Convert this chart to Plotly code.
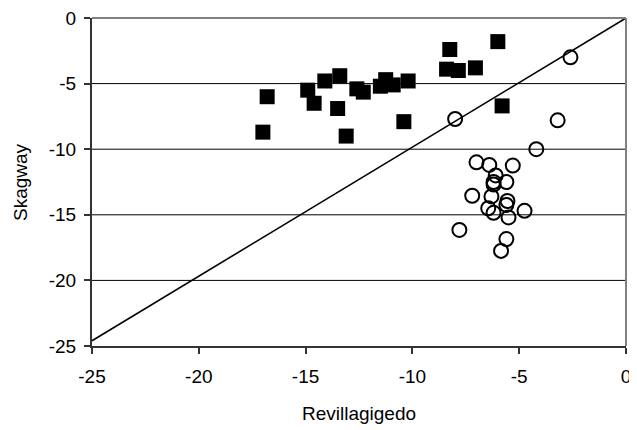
import plotly.graph_objects as go

# Skagway vs Revillagigedo
sq_x = [-17.0, -16.8, -14.9, -14.6, -14.1, -13.4, -13.5, -13.1, -12.6, -12.3,
        -11.5, -11.25, -10.9, -10.2, -10.4, -8.25, -8.4, -7.85, -7.05, -6.0, -5.8]
sq_y = [-8.7, -6.0, -5.5, -6.5, -4.8, -4.4, -6.9, -9.0, -5.4, -5.65,
        -5.2, -4.7, -5.1, -4.8, -7.9, -2.4, -3.9, -4.0, -3.8, -1.8, -6.7]

ci_x = [-2.6, -8.0, -3.2, -4.2, -7.0, -6.4, -5.3, -6.1, -6.2, -6.2, -5.6,
        -7.2, -6.3, -5.55, -5.6, -6.45, -6.2, -5.5, -4.75, -7.8, -5.6, -5.85]
ci_y = [-3.0, -7.7, -7.8, -10.0, -11.0, -11.2, -11.25, -12.0, -12.5, -12.7, -12.5,
        -13.55, -13.6, -13.95, -14.25, -14.5, -14.85, -15.2, -14.7, -16.15, -16.85, -17.75]

line_x = [-25, 0]
line_y = [-24.6, 0]

x_ticks = [-25, -20, -15, -10, -5, 0]
x_labels = ["-25", "-20", "-15", "-10", "-5", "0"]
y_ticks = [-25, -20, -15, -10, -5, 0]
y_labels = ["-25", "-20", "-15", "-10", "-5", "0"]

font = "Liberation Sans, Arial, sans-serif"
fs = 19

fig = go.Figure()
fig.add_trace(go.Scatter(x=line_x, y=line_y, mode="lines",
                         line=dict(color="black", width=1.6), showlegend=False,
                         hoverinfo="skip"))
fig.add_trace(go.Scatter(x=sq_x, y=sq_y, mode="markers",
                         marker=dict(symbol="square", size=15, color="black"),
                         showlegend=False))
fig.add_trace(go.Scatter(x=ci_x, y=ci_y, mode="markers",
                         marker=dict(symbol="circle-open", size=14, color="black",
                                     line=dict(width=2, color="black")),
                         showlegend=False))

# plot-area frame (top and right edges, gray)
fig.add_shape(type="line", xref="paper", yref="paper", x0=0, y0=1, x1=1, y1=1,
              line=dict(color="#808080", width=2), layer="above")
fig.add_shape(type="line", xref="paper", yref="paper", x0=1, y0=0, x1=1, y1=1,
              line=dict(color="#808080", width=2), layer="above")

axis_common = dict(
    showgrid=False, zeroline=False, showline=True, linecolor="#333333", linewidth=2,
    ticks="outside", ticklen=6, tickwidth=1.5, tickcolor="#333333",
    tickfont=dict(family=font, size=fs, color="black"),
    ticklabeloverflow="allow", automargin=False,
)
fig.update_xaxes(range=[-25, 0], tickvals=x_ticks, ticktext=x_labels, **axis_common,
                 ticklabelstandoff=6,
                 title=dict(text="Revillagigedo", font=dict(family=font, size=fs, color="black"),
                            standoff=21))
fig.update_yaxes(range=[-25, 0], tickvals=y_ticks, ticktext=y_labels, **axis_common,
                 ticklabelstandoff=4)

fig.add_annotation(text="Skagway", xref="paper", yref="paper", x=0, y=0.5,
                   xanchor="center", yanchor="middle", xshift=-72, textangle=-90,
                   showarrow=False, font=dict(family=font, size=fs, color="black"))

for v in [-5, -10, -15, -20]:
    fig.add_shape(type="line", xref="paper", x0=0, x1=1, yref="y", y0=v, y1=v,
                  line=dict(color="black", width=1), layer="below")

fig.update_layout(
    width=629, height=422,
    margin=dict(l=84, r=11, t=10, b=84),
    plot_bgcolor="white", paper_bgcolor="white",
    font=dict(family=font, size=fs, color="black"),
)

fig.write_html("out.html")
